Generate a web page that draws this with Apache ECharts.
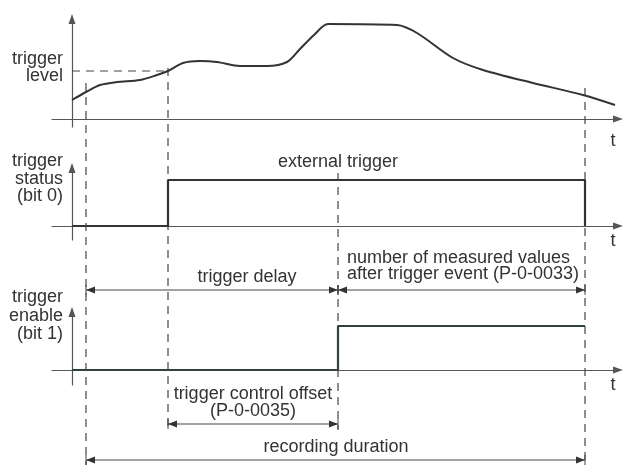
<!DOCTYPE html>
<html>
<head>
<meta charset="utf-8">
<script src="https://cdn.jsdelivr.net/npm/echarts@6/dist/echarts.min.js"></script>
<style>
html,body{margin:0;padding:0;background:#fff;}
#chart{width:624px;height:466px;}
</style>
</head>
<body>
<div id="chart"></div>
<script>
// ---- data (time in diagram units, t = 0 at the vertical axes) ----
const curveT = [0, 14, 28, 45, 68, 85, 96, 111, 128, 145, 168, 195, 215, 228, 242, 256, 325, 345, 381, 411, 461, 511, 543];
const curveV = [19, 27, 34, 37, 39, 44, 48, 56, 58, 57, 53, 53, 57, 70, 84, 95, 94, 86, 61, 49, 36, 24, 14];
const triggerLevel = 48;
const markerTimes = [14, 96, 266, 513];          // record start, trigger, enable, record end
const statusT = [0, 96, 96, 513, 513];
const statusV = [0, 0, 1, 1, 0];
const enableT = [0, 266, 266, 513];
const enableV = [0, 0, 1, 1];
// dimension arrows: [fromIndex, toIndex] into markerTimes
const dimPairs = [[0, 2], [2, 3], [1, 2], [0, 3]];

// ---- layout ----
const FONT = "'Liberation Sans', Arial, sans-serif";
const FS = 18;
const TXT = '#333';
const AX = '#555';
const SIG = '#333';
const X_MIN = -20, X_MAX = 546;
const dimRows = [290, 290, 424, 460];
const dashTop = [83, 68, 173, 88];
const dashBottom = [465, 428, 430, 465];

const chart = echarts.init(document.getElementById('chart'), null, {renderer: 'canvas'});

function xAx(gi) {
  return {
    gridIndex: gi, type: 'value', min: X_MIN, max: X_MAX,
    axisLine: {show: gi < 3, onZero: true, symbol: ['none', 'triangle'], symbolSize: [7, 10],
      lineStyle: {color: AX, width: 1.2}},
    axisTick: {show: false}, axisLabel: {show: false}, splitLine: {show: false}
  };
}
function yAx(gi, mn, mx, show) {
  return {
    gridIndex: gi, type: 'value', min: mn, max: mx,
    axisLine: {show: show, onZero: true, symbol: ['none', 'triangle'], symbolSize: [7, 10],
      lineStyle: {color: AX, width: 1.2}},
    axisTick: {show: false}, axisLabel: {show: false}, splitLine: {show: false}
  };
}

const curveData = curveT.map((t, i) => [t, curveV[i]]);
const statusData = statusT.map((t, i) => [t, statusV[i]]);
const enableData = enableT.map((t, i) => [t, enableV[i]]);
const levelData = [[0, triggerLevel], [markerTimes[1], triggerLevel]];
const dashData = markerTimes.map((t, i) => [t, dashTop[i], dashBottom[i]]);
const dimData = dimPairs.map((p, i) => [markerTimes[p[0]], markerTimes[p[1]], dimRows[i]]);

function renderDash(params, api) {
  const a = api.coord([api.value(0), api.value(1)]);
  const b = api.coord([api.value(0), api.value(2)]);
  return {type: 'line', shape: {x1: a[0], y1: a[1], x2: b[0], y2: b[1]},
    style: {stroke: '#444', lineWidth: 1.2, lineDash: [8, 6]}};
}
function renderDim(params, api) {
  const a = api.coord([api.value(0), api.value(2)]);
  const b = api.coord([api.value(1), api.value(2)]);
  const y = a[1], L = 9, H = 3.5, B = 5;
  const st = {stroke: '#444', lineWidth: 1};
  return {type: 'group', children: [
    {type: 'line', shape: {x1: a[0], y1: y, x2: b[0], y2: y}, style: st},
    {type: 'line', shape: {x1: a[0], y1: y - B, x2: a[0], y2: y + B}, style: st},
    {type: 'line', shape: {x1: b[0], y1: y - B, x2: b[0], y2: y + B}, style: st},
    {type: 'polygon', shape: {points: [[a[0], y], [a[0] + L, y - H], [a[0] + L, y + H]]}, style: {fill: '#333'}},
    {type: 'polygon', shape: {points: [[b[0], y], [b[0] - L, y - H], [b[0] - L, y + H]]}, style: {fill: '#333'}}
  ]};
}

function txt(text, x, y, align, lh) {
  return {type: 'text', x: x, y: y, z: 10, style: {text: text, fill: TXT, font: FS + 'px ' + FONT,
    fontSize: FS, fontFamily: FONT, align: align || 'center', verticalAlign: 'middle', lineHeight: lh || 17}};
}

const option = {
  backgroundColor: '#fff',
  animation: false,
  grid: [
    {left: 52, right: 6, top: 19, height: 108},
    {left: 52, right: 6, top: 168, height: 72},
    {left: 52, right: 6, top: 312, height: 73},
    {left: 52, right: 6, top: 0, height: 466}
  ],
  xAxis: [xAx(0), xAx(1), xAx(2), xAx(3)],
  yAxis: [
    yAx(0, -8, 100, true),
    yAx(1, -14 / 46, 58 / 46, true),
    yAx(2, -15 / 44, 58 / 44, true),
    {gridIndex: 3, type: 'value', min: 0, max: 466, inverse: true, show: false}
  ],
  graphic: [
    txt('trigger\nlevel', 63, 68, 'right', 17),
    txt('trigger\nstatus\n(bit 0)', 63, 179, 'right', 17.5),
    txt('trigger\nenable\n(bit 1)', 63, 316, 'right', 18.5),
    txt('t', 613, 141), txt('t', 613, 241), txt('t', 613, 385),
    txt('external trigger', 338, 162),
    txt('trigger delay', 247, 277),
    txt('number of measured values\nafter trigger event (P-0-0033)', 347, 266, 'left', 16),
    txt('trigger control offset\n(P-0-0035)', 253, 403, 'center', 17),
    txt('recording duration', 336, 447)
  ],
  series: [
    {type: 'line', xAxisIndex: 0, yAxisIndex: 0, data: curveData, smooth: 0.3, showSymbol: false,
      lineStyle: {color: SIG, width: 2}, z: 5},
    {type: 'line', xAxisIndex: 0, yAxisIndex: 0, data: levelData, showSymbol: false,
      lineStyle: {color: '#444', width: 1.2, type: [8, 6]}},
    {type: 'line', xAxisIndex: 1, yAxisIndex: 1, data: statusData, showSymbol: false,
      lineStyle: {color: SIG, width: 2.2}, z: 5},
    {type: 'line', xAxisIndex: 2, yAxisIndex: 2, data: enableData, showSymbol: false,
      lineStyle: {color: '#2f4240', width: 2.2}, z: 5},
    {type: 'custom', xAxisIndex: 3, yAxisIndex: 3, data: dashData, renderItem: renderDash,
      encode: {x: 0, y: 1}, clip: false, silent: true},
    {type: 'custom', xAxisIndex: 3, yAxisIndex: 3, data: dimData, renderItem: renderDim,
      encode: {x: [0, 1], y: 2}, clip: false, silent: true}
  ]
};
chart.setOption(option);
</script>
</body>
</html>
